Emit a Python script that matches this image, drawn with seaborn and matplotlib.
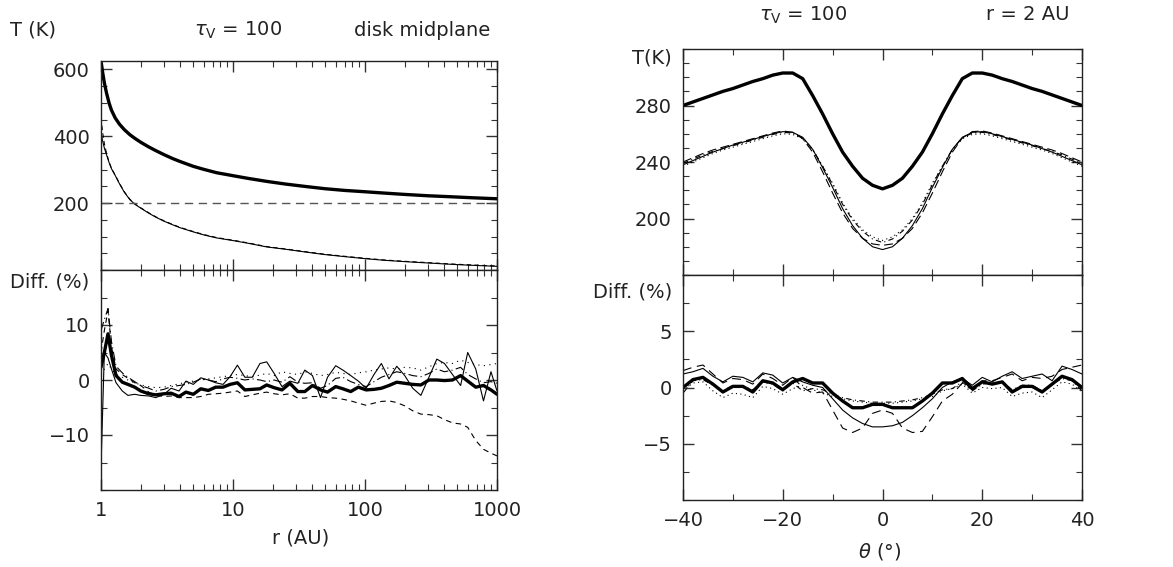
import numpy as np
import pandas as pd
import matplotlib
matplotlib.use('Agg')
import matplotlib.pyplot as plt
import seaborn as sns
from matplotlib.ticker import MultipleLocator, FixedLocator, NullFormatter

# ----------------------- Données : plan médian (gauche) ------------------------

r_top = [1.0, 1.03, 1.06, 1.1, 1.15, 1.2, 1.28, 1.38, 1.5, 1.65, 1.8, 2.0, 2.3, 2.6,
         3.0, 3.5, 4.0, 5.0, 6.0, 7.5, 10, 13, 18, 25, 35, 50, 70, 100, 140, 200,
         300, 450, 650, 1000]
T_mid_thick = [625, 590, 560, 530, 500, 478, 455, 436, 420, 405, 394, 382, 368, 357,
               345, 333, 324, 310, 301, 291, 282, 274, 265, 257, 250, 243, 238, 234,
               230, 226, 222, 219, 216, 213]
T_mid_solid = [410, 385, 365, 345, 322, 303, 283, 258, 233, 211, 197, 185, 170, 158,
               146, 135, 126, 114, 105, 96, 88, 80, 69, 62, 54, 46, 40, 34,
               29, 25, 21, 17, 14, 11]
T_mid_dash = [455, 410, 378, 350, 324, 304, 284, 259, 234, 212, 198, 186, 171, 159,
              147, 136, 127, 115, 106, 97, 89, 81, 70, 63, 55, 47, 41, 35,
              30, 26, 22, 18, 15, 12]
T_evap = 200

r_diff = [1.0, 1.06, 1.13, 1.2, 1.3, 1.45, 1.6, 1.8, 2.0, 2.3, 2.6, 3.0, 3.4, 3.9,
          4.4, 5.0, 5.7, 6.5, 7.4, 8.4, 9.5, 10.8, 12.3, 14, 16, 18, 20.5, 23.5,
          27, 31, 35, 40, 46, 52, 60, 68, 78, 89, 102, 117, 133, 152, 174, 200,
          230, 265, 305, 350, 400, 460, 530, 600, 690, 790, 900, 1000]
d_mid_thick = [2.3, 5.0, 8.4, 4.5, 0.8, -0.4, -0.8, -1.3, -2.0, -2.5, -2.7, -2.5, -2.4, -3.0,
               -2.2, -2.6, -1.6, -1.9, -1.3, -1.3, -0.8, -0.5, -1.8, -1.7, -1.6, -0.9, -1.4, -1.8,
               -0.6, -2.1, -2.1, -1.0, -1.8, -2.2, -1.2, -1.6, -2.1, -1.3, -1.8, -1.7, -1.5, -1.0,
               -0.4, -0.6, -0.8, -0.9, 0.0, 0.0, -0.1, 0.0, 0.8, -0.2, -1.3, -1.0, -1.8, -2.6]
d_mid_solid = [-16.0, 5.0, 4.0, 2.0, -0.5, -2.0, -2.8, -2.6, -2.8, -2.9, -3.2, -2.6, -1.5, -2.0,
               -0.2, -0.8, 0.4, 0.0, -0.5, -0.8, 0.6, 2.7, 0.5, 0.5, 3.0, 3.3, 1.2, -1.2,
               -0.2, -0.6, 1.8, 0.8, -3.2, 0.5, 2.6, 1.8, 0.8, -0.2, -1.5, 1.0, 3.0, 0.2,
               2.5, 0.8, -1.5, -2.8, 0.5, 3.8, 3.0, 1.0, -1.0, 5.0, 2.0, -3.8, 1.5, -2.0]
d_mid_dash = [5.0, 9.0, 12.6, 6.0, 2.0, 1.0, 0.3, -0.5, -1.0, -2.2, -2.8, -3.0, -2.9, -3.2,
              -3.2, -3.2, -3.0, -2.6, -2.5, -2.4, -2.2, -2.0, -3.0, -2.7, -2.4, -2.2, -2.5, -2.7,
              -2.5, -3.3, -3.3, -3.0, -3.0, -3.2, -3.3, -3.5, -3.8, -4.2, -4.6, -4.2, -3.9, -3.8,
              -4.1, -4.7, -5.6, -6.2, -6.3, -6.5, -7.2, -7.8, -8.0, -8.6, -11.0, -12.6, -13.3, -13.8]
d_mid_longdash = [9.0, 11.0, 13.0, 7.0, 2.5, 1.3, 0.5, -0.3, -1.0, -1.5, -2.0, -1.7, -1.2, -1.0,
                  -0.8, -0.4, 0.2, 0.0, -0.3, 0.2, 0.5, 0.3, 0.0, 0.2, 0.0, -0.3, 0.0, -0.4,
                  0.6, -0.4, -0.6, -0.5, -1.5, -1.0, 0.3, 0.5, -0.3, -0.8, -1.2, -0.3, 0.5, 1.0,
                  1.5, 1.2, 0.8, 0.6, 1.2, 2.0, 1.5, 1.8, 2.3, 1.0, 0.2, -0.5, -0.3, -0.6]
d_mid_dot = [1.0, 2.0, 3.0, 2.0, 1.0, 0.5, 0.0, -0.5, -0.9, -1.2, -1.4, -1.3, -1.0, -0.7,
             -0.4, -0.2, 0.0, 0.2, 0.4, 0.6, 0.8, 1.0, 0.8, 0.6, 0.9, 1.2, 0.8, 1.5,
             1.2, 1.0, 1.5, 1.2, 0.8, 1.0, 1.4, 1.2, 1.0, 1.3, 1.5, 1.8, 2.0, 2.2,
             2.0, 2.3, 2.2, 1.8, 2.4, 3.0, 3.2, 3.0, 3.6, 3.2, 2.8, 2.6, 2.8, 3.0]

# ----------------------- Données : r = 2 AU (droite) ------------------------

theta = [-40, -38, -36, -34, -32, -30, -28, -26, -24, -22, -20, -18, -16, -14, -12, -10,
         -8, -6, -4, -2, 0, 2, 4, 6, 8, 10, 12, 14, 16, 18, 20, 22, 24, 26, 28, 30,
         32, 34, 36, 38, 40]
T_th_thick = [280, 282.5, 285, 287.5, 290, 292, 294.5, 297, 299, 301.5, 303, 303, 299, 287,
              274, 260, 247, 237, 228.5, 223.5, 221, 223.5, 228.5, 237, 247, 260, 274, 287,
              299, 303, 303, 301.5, 299, 297, 294.5, 292, 290, 287.5, 285, 282.5, 280]
T_th_solid = [238, 241, 244, 247, 249.5, 252, 254, 256, 258, 260, 261.5, 261, 257.5, 249,
              236, 222, 207, 195, 186, 180, 178, 180, 186, 195, 207, 222, 236, 249,
              257.5, 261, 261.5, 260, 258, 256, 254, 252, 249.5, 247, 244, 241, 238]
T_th_dash = [240, 243, 246, 248.5, 250.5, 252.5, 254.5, 256.5, 258.5, 260.5, 262, 261, 256.5, 247,
             233, 218, 204, 193, 186, 182, 181, 182, 186, 193, 204, 218, 233, 247,
             257, 261.5, 262, 260.5, 258.5, 256.5, 254.5, 252.5, 250.5, 248.5, 246, 243, 240]
T_th_dashdot = [239, 242, 245, 247.5, 249.5, 251.5, 253.5, 255.5, 257.5, 259.5, 261, 260.5, 257, 249,
                237, 224, 210, 199, 191, 185.5, 183, 185.5, 191, 199, 210, 224, 237, 249,
                257, 260.5, 261, 259.5, 257.5, 255.5, 253.5, 251.5, 249.5, 247.5, 245, 242, 239]
T_th_dot = [237, 240, 243, 246, 248.5, 250.5, 252.5, 254.5, 256.5, 258.5, 260, 259.5, 256.5, 248.5,
            237, 225, 211, 200, 192, 187, 184.5, 187, 192, 200, 211, 225, 237, 248.5,
            256.5, 259.5, 260, 258.5, 256.5, 254.5, 252.5, 250.5, 248.5, 246, 243, 240, 237]

d_th_thick = [0.0, 0.7, 0.9, 0.3, -0.4, 0.1, 0.1, -0.4, 0.6, 0.4, -0.2, 0.5, 0.8, 0.4,
              0.4, -0.5, -1.2, -1.8, -1.8, -1.5, -1.5, -1.8, -1.8, -1.8, -1.2, -0.5, 0.4, 0.4,
              0.8, -0.1, 0.5, 0.3, 0.5, -0.4, 0.1, 0.1, -0.4, 0.3, 1.0, 0.7, 0.0]
d_th_solid = [1.2, 1.4, 1.7, 1.0, 0.5, 1.0, 0.9, 0.5, 1.3, 1.1, 0.4, 0.9, 0.5, 0.2,
              0.0, -1.0, -2.0, -2.7, -3.2, -3.5, -3.5, -3.4, -3.1, -2.5, -1.8, -1.0, 0.0, 0.5,
              0.8, 0.2, 0.9, 0.5, 1.0, 1.4, 0.8, 1.0, 1.2, 0.6, 1.9, 1.6, 1.2]
d_th_dash = [1.5, 1.8, 2.0, 1.2, 0.4, 0.8, 0.7, 0.3, 1.2, 0.8, 0.2, 0.9, 0.0, -0.5,
             -0.4, -2.0, -3.6, -4.0, -3.6, -2.3, -2.0, -2.3, -3.6, -4.0, -3.9, -2.6, -1.2, -0.6,
             0.4, -0.2, 0.6, 0.6, 0.9, 1.2, 0.6, 0.9, 0.8, 1.0, 1.6, 1.8, 2.0]
d_th_dashdot = [-0.5, 0.6, 0.7, 0.2, -0.3, 0.2, 0.1, -0.2, 0.5, 0.3, -0.3, 0.4, -0.3, -0.1,
                -0.2, -0.6, -0.9, -1.1, -1.2, -1.3, -1.3, -1.3, -1.2, -1.1, -0.9, -0.6, -0.2, -0.1,
                0.5, -0.3, 0.3, 0.4, 0.5, -0.2, 0.2, 0.2, -0.3, 0.3, 0.8, 0.6, -0.3]
d_th_dot = [-0.3, 0.4, 0.5, -0.3, -0.9, -0.5, -0.6, -0.9, 0.1, -0.1, -0.6, -0.1, 0.2, -0.2,
            -0.5, -0.8, -1.0, -1.2, -1.3, -1.4, -1.4, -1.4, -1.3, -1.2, -1.0, -0.8, -0.3, -0.1,
            0.3, -0.5, 0.0, -0.1, 0.0, -0.8, -0.5, -0.4, -0.9, -0.2, 0.5, 0.3, -0.4]

# ----------------------- Style ------------------------

sns.set_style('ticks')
plt.rcParams['font.family'] = ['DejaVu Sans']
plt.rcParams['font.size'] = 14
plt.rcParams['axes.linewidth'] = 1.0
plt.rcParams['mathtext.fontset'] = 'dejavusans'

W, H = 1173, 567
fig = plt.figure(figsize=(W / 100, H / 100), dpi=100)


def box(l, t, r, b):
    # positions en pixels -> fraction de figure
    return [l / W, 1 - b / H, (r - l) / W, (b - t) / H]


ax_lt = fig.add_axes(box(101, 61, 497, 270))
ax_lb = fig.add_axes(box(101, 270, 497, 490))
ax_rt = fig.add_axes(box(683, 49, 1082, 275))
ax_rb = fig.add_axes(box(683, 275, 1082, 500))

thick = dict(color='black', linewidth=2.4)
thin = dict(color='black', linewidth=0.8)

# ----------------------- Panneau gauche haut ------------------------

sns.lineplot(x=r_top, y=T_mid_thick, ax=ax_lt, **thick)
sns.lineplot(x=r_top, y=T_mid_solid, ax=ax_lt, **thin)
sns.lineplot(x=r_top, y=T_mid_dash, ax=ax_lt, linestyle=(0, (4, 3)), **thin)
ax_lt.axhline(T_evap, color='#555555', linewidth=1.0, linestyle=(0, (6, 4)))

# ----------------------- Panneau gauche bas ------------------------

sns.lineplot(x=r_diff, y=d_mid_thick, ax=ax_lb, **thick)
sns.lineplot(x=r_diff, y=d_mid_solid, ax=ax_lb, **thin)
sns.lineplot(x=r_diff, y=d_mid_dash, ax=ax_lb, linestyle=(0, (5, 4)), **thin)
sns.lineplot(x=r_diff, y=d_mid_longdash, ax=ax_lb, linestyle=(0, (8, 3, 1, 3)), **thin)
sns.lineplot(x=r_diff, y=d_mid_dot, ax=ax_lb, linestyle=(0, (1, 4)), **thin)

# ----------------------- Panneau droit haut ------------------------

sns.lineplot(x=theta, y=T_th_thick, ax=ax_rt, **thick)
sns.lineplot(x=theta, y=T_th_solid, ax=ax_rt, **thin)
sns.lineplot(x=theta, y=T_th_dash, ax=ax_rt, linestyle=(0, (8, 4)), **thin)
sns.lineplot(x=theta, y=T_th_dashdot, ax=ax_rt, linestyle=(0, (5, 3, 1, 3)), **thin)
sns.lineplot(x=theta, y=T_th_dot, ax=ax_rt, linestyle=(0, (1, 3)), **thin)

# ----------------------- Panneau droit bas ------------------------

sns.lineplot(x=theta, y=d_th_thick, ax=ax_rb, **thick)
sns.lineplot(x=theta, y=d_th_solid, ax=ax_rb, **thin)
sns.lineplot(x=theta, y=d_th_dash, ax=ax_rb, linestyle=(0, (8, 5)), **thin)
sns.lineplot(x=theta, y=d_th_dashdot, ax=ax_rb, linestyle=(0, (5, 3, 1, 3)), **thin)
sns.lineplot(x=theta, y=d_th_dot, ax=ax_rb, linestyle=(0, (1, 3)), **thin)

# ----------------------- Axes ------------------------

for ax in (ax_lt, ax_lb):
    ax.set_xscale('log')
    ax.set_xlim(1, 1000)
    ax.xaxis.set_major_locator(FixedLocator([1, 10, 100, 1000]))
ax_lb.set_xticklabels(['1', '10', '100', '1000'])
ax_lt.set_ylim(0, 625)
ax_lt.yaxis.set_major_locator(FixedLocator([200, 400, 600]))
ax_lt.yaxis.set_minor_locator(MultipleLocator(50))
ax_lb.set_ylim(-20, 20)
ax_lb.yaxis.set_major_locator(FixedLocator([-10, 0, 10]))
ax_lb.yaxis.set_minor_locator(MultipleLocator(5))
ax_lb.set_yticklabels(['\u221210', '0', '10'])

for ax in (ax_rt, ax_rb):
    ax.set_xlim(-40, 40)
    ax.xaxis.set_major_locator(FixedLocator([-40, -20, 0, 20, 40]))
    ax.xaxis.set_minor_locator(MultipleLocator(10))
ax_rb.set_xticklabels(['\u221240', '\u221220', '0', '20', '40'])
ax_rt.set_ylim(160, 320)
ax_rt.yaxis.set_major_locator(FixedLocator([200, 240, 280]))
ax_rt.yaxis.set_minor_locator(MultipleLocator(10))
ax_rb.set_ylim(-10, 10)
ax_rb.yaxis.set_major_locator(FixedLocator([-5, 0, 5]))
ax_rb.yaxis.set_minor_locator(MultipleLocator(2.5))
ax_rb.set_yticklabels(['\u22125', '0', '5'])

for ax in (ax_lt, ax_lb, ax_rt, ax_rb):
    ax.set_xlabel('')
    ax.set_ylabel('')
    ax.tick_params(which='both', direction='in', top=True, right=True, color='#333333')
    ax.tick_params(which='major', length=8, width=1.0, labelsize=14, pad=8,
                   labelcolor='#222222')
    ax.tick_params(which='minor', length=4, width=0.8)
    for s in ax.spines.values():
        s.set_color('#222222')

for ax in (ax_lt, ax_rt):
    ax.tick_params(axis='x', which='both', labelbottom=False)
    ax.xaxis.set_minor_formatter(NullFormatter())
ax_lb.xaxis.set_minor_formatter(NullFormatter())

# ----------------------- Textes ------------------------

tc = '#222222'
fig.text(10 / W, 1 - 30 / H, 'T (K)', fontsize=14, va='center', ha='left', color=tc)
fig.text(238 / W, 1 - 30 / H, r'$\tau_{\rm V}$ = 100', fontsize=14, va='center', ha='center', color=tc)
fig.text(490 / W, 1 - 30 / H, 'disk midplane', fontsize=14, va='center', ha='right', color=tc)
fig.text(10 / W, 1 - 282 / H, 'Diff. (%)', fontsize=14, va='center', ha='left', color=tc)
fig.text(301 / W, 1 - 538 / H, 'r (AU)', fontsize=14, va='center', ha='center', color=tc)

fig.text(803 / W, 1 - 15 / H, r'$\tau_{\rm V}$ = 100', fontsize=14, va='center', ha='center', color=tc)
fig.text(1070 / W, 1 - 15 / H, 'r = 2 AU', fontsize=14, va='center', ha='right', color=tc)
fig.text(672 / W, 1 - 58 / H, 'T(K)', fontsize=14, va='center', ha='right', color=tc)
fig.text(672 / W, 1 - 292 / H, 'Diff. (%)', fontsize=14, va='center', ha='right', color=tc)
fig.text(880 / W, 1 - 552 / H, r'$\theta$ (°)', fontsize=14, va='center', ha='center', color=tc)

fig.savefig('out.png', dpi=100)
